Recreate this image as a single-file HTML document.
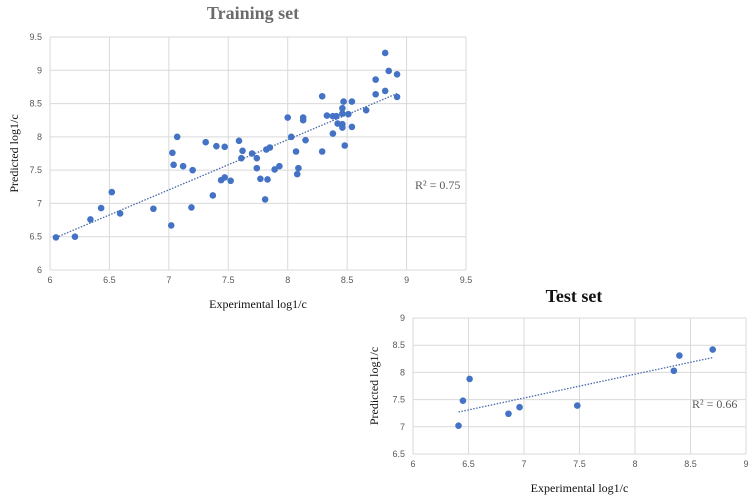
<!DOCTYPE html>
<html><head><meta charset="utf-8"><style>
body{margin:0;background:#fff;width:754px;height:498px;overflow:hidden}
svg{display:block}
text{font-family:"Liberation Serif",serif}
.tk{font-family:"Liberation Sans",sans-serif;font-size:9px;fill:#595959}
</style></head><body>
<svg id="s" width="754" height="498">
<text x="253" y="19" text-anchor="middle" font-size="18" font-weight="bold" fill="#6b6b6b">Training set</text>
<text x="574" y="302" text-anchor="middle" font-size="18" font-weight="bold" fill="#111">Test set</text>
</svg>
<script>
const trainX=[6.05,6.21,6.34,6.43,6.52,6.59,6.87,7.02,7.03,7.04,7.07,7.12,7.19,7.20,7.31,7.37,7.40,7.44,7.47,7.47,7.52,7.59,7.61,7.62,7.70,7.74,7.74,7.77,7.81,7.82,7.83,7.85,7.89,7.93,8.00,8.03,8.07,8.09,8.08,8.13,8.13,8.15,8.29,8.29,8.33,8.38,8.41,8.38,8.42,8.46,8.46,8.47,8.46,8.46,8.48,8.51,8.54,8.54,8.66,8.74,8.74,8.82,8.82,8.85,8.92,8.92];
const trainY=[6.49,6.50,6.76,6.93,7.17,6.85,6.92,6.67,7.76,7.58,8.00,7.56,6.94,7.50,7.92,7.12,7.86,7.35,7.39,7.85,7.34,7.94,7.68,7.79,7.75,7.68,7.53,7.37,7.06,7.81,7.36,7.84,7.51,7.56,8.29,8.00,7.78,7.53,7.44,8.29,8.25,7.95,8.61,7.78,8.32,8.31,8.31,8.05,8.20,8.43,8.35,8.53,8.19,8.14,7.87,8.34,8.53,8.15,8.40,8.64,8.86,9.26,8.69,8.99,8.94,8.60];
const testX=[6.41,6.45,6.51,6.86,6.96,7.48,8.35,8.40,8.70];
const testY=[7.02,7.48,7.88,7.24,7.36,7.39,8.03,8.31,8.42];
const trainTicksX=[6,6.5,7,7.5,8,8.5,9,9.5];
const trainTicksY=[6,6.5,7,7.5,8,8.5,9,9.5];
const testTicksX=[6,6.5,7,7.5,8,8.5,9];
const testTicksY=[6.5,7,7.5,8,8.5,9];
const NS="http://www.w3.org/2000/svg";
const svg=document.getElementById('s');
function mk(t,a,p){const e=document.createElementNS(NS,t);for(const k in a)e.setAttribute(k,a[k]);(p||svg).appendChild(e);return e;}
function fit(xs,ys){const n=xs.length;let mx=0,my=0;for(let i=0;i<n;i++){mx+=xs[i];my+=ys[i];}mx/=n;my/=n;let sxy=0,sxx=0,syy=0;for(let i=0;i<n;i++){sxy+=(xs[i]-mx)*(ys[i]-my);sxx+=(xs[i]-mx)**2;syy+=(ys[i]-my)**2;}const b=sxy/sxx;return{b:b,a:my-b*mx,r2:sxy*sxy/(sxx*syy)};}
function chart(c){
 const g=mk('g',{});
 
 
 const sx=v=>c.L+(v-c.x0)/(c.x1-c.x0)*(c.R-c.L);
 const sy=v=>c.B-(v-c.y0)/(c.y1-c.y0)*(c.B-c.T);
 c.tx.forEach(v=>{const l=mk('line',{x1:sx(v),x2:sx(v),y1:c.T,y2:c.B,stroke:'#d9d9d9','stroke-width':1},g);
  
  const t=mk('text',{x:sx(v),y:c.B+13,'text-anchor':'middle',class:'tk'},g);t.textContent=v;
  });
 c.ty.forEach(v=>{const l=mk('line',{x1:c.L,x2:c.R,y1:sy(v),y2:sy(v),stroke:'#d9d9d9','stroke-width':1},g);
  
  const t=mk('text',{x:c.L-8,y:sy(v)+3,'text-anchor':'end',class:'tk'},g);t.textContent=v;
  });
 const f=fit(c.xs,c.ys);const xmn=Math.min(...c.xs),xmx=Math.max(...c.xs);
 const tl=mk('line',{x1:sx(xmn),y1:sy(f.a+f.b*xmn),x2:sx(xmx),y2:sy(f.a+f.b*xmx),stroke:'#4a6aa8','stroke-width':1.3,'stroke-dasharray':'1.5,1.5'},g);
 
 c.xs.forEach((x,i)=>{const p=mk('circle',{cx:sx(x),cy:sy(c.ys[i]),r:3.3,fill:'#4472c4'},g);
  });
 const r=mk('text',{x:c.rx,y:c.ry,'font-size':12,fill:'#595959'},g);r.textContent=c.r2;
 
 const xt=mk('text',{x:(c.L+c.R)/2,y:c.xty,'text-anchor':'middle','font-size':12,fill:'#111'},g);xt.textContent='Experimental log1/c';
 
 const cy=(c.T+c.B)/2;
 const yt=mk('text',{x:c.ytx,y:cy,'text-anchor':'middle','font-size':12,fill:'#111',transform:`rotate(-90 ${c.ytx} ${cy})`},g);yt.textContent='Predicted log1/c';
 
}
chart({name:'training-chart',L:50,R:466,T:37,B:270,x0:6,x1:9.5,y0:6,y1:9.5,tx:trainTicksX,ty:trainTicksY,xs:trainX,ys:trainY,r2:'R² = 0.75',rx:415,ry:189,xty:308,ytx:18});
chart({name:'test-chart',L:413,R:746,T:318,B:454,x0:6,x1:9,y0:6.5,y1:9,tx:testTicksX,ty:testTicksY,xs:testX,ys:testY,r2:'R² = 0.66',rx:692,ry:408,xty:492,ytx:378});
</script>
</body></html>
